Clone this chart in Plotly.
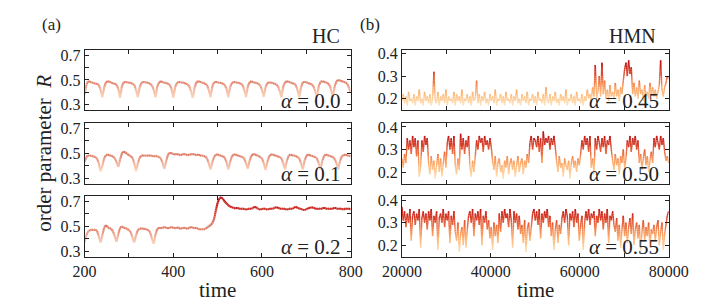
import numpy as np
import plotly.graph_objects as go
from plotly.colors import sample_colorscale

# ------------------------------------------------------------------ data
# (a) HC : order parameter R, sampled every 4 time units from 200 to 800
HC_T_RANGE = (200, 800)
R_HC_00 = [
    0.38, 0.46, 0.49, 0.485, 0.48, 0.475, 0.47, 0.47, 0.46, 0.42,
    0.36, 0.44, 0.48, 0.49, 0.485, 0.48, 0.47, 0.472, 0.46, 0.43,
    0.355, 0.45, 0.48, 0.485, 0.48, 0.48, 0.475, 0.47, 0.46, 0.42,
    0.36, 0.44, 0.475, 0.485, 0.48, 0.482, 0.475, 0.47, 0.455, 0.42,
    0.36, 0.45, 0.48, 0.49, 0.48, 0.48, 0.475, 0.47, 0.46, 0.43,
    0.355, 0.44, 0.475, 0.485, 0.48, 0.48, 0.478, 0.47, 0.465, 0.45, 0.41,
    0.355, 0.44, 0.48, 0.49, 0.485, 0.48, 0.475, 0.47, 0.46, 0.42,
    0.36, 0.45, 0.48, 0.485, 0.48, 0.478, 0.475, 0.47, 0.46, 0.43,
    0.36, 0.44, 0.475, 0.485, 0.48, 0.48, 0.475, 0.47, 0.46, 0.42,
    0.36, 0.45, 0.48, 0.49, 0.48, 0.48, 0.475, 0.47, 0.455, 0.42,
    0.365, 0.44, 0.475, 0.48, 0.48, 0.475, 0.47, 0.465, 0.45, 0.41,
    0.36, 0.45, 0.48, 0.49, 0.485, 0.48, 0.475, 0.47, 0.46, 0.42,
    0.36, 0.44, 0.48, 0.485, 0.48, 0.478, 0.47, 0.465, 0.45, 0.41,
    0.365, 0.45, 0.485, 0.49, 0.485, 0.48, 0.475, 0.46, 0.42,
    0.36, 0.45, 0.49, 0.50, 0.495, 0.49, 0.485, 0.48, 0.47, 0.44,
    0.40,
]
R_HC_01 = [
    0.43, 0.47, 0.485, 0.48, 0.48, 0.475, 0.47, 0.46, 0.42,
    0.355,
    0.40, 0.46, 0.485, 0.49, 0.485, 0.48, 0.475, 0.46, 0.43,
    0.39,
    0.45, 0.50, 0.515, 0.505, 0.495, 0.485, 0.475, 0.465, 0.42,
    0.355,
    0.42, 0.465, 0.48, 0.485, 0.48, 0.48, 0.485, 0.48, 0.48, 0.475, 0.48, 0.475, 0.47, 0.46, 0.42,
    0.375,
    0.44, 0.49, 0.505, 0.50, 0.495, 0.49, 0.495, 0.49, 0.485, 0.49, 0.495, 0.49, 0.485,
    0.49, 0.49, 0.495, 0.49, 0.485, 0.49, 0.485, 0.48, 0.48, 0.475, 0.46, 0.42,
    0.37,
    0.43, 0.47, 0.49, 0.49, 0.485, 0.48, 0.475, 0.465, 0.43,
    0.37,
    0.43, 0.475, 0.49, 0.49, 0.485, 0.48, 0.475, 0.47, 0.46, 0.42,
    0.375,
    0.44, 0.48, 0.495, 0.49, 0.485, 0.48, 0.47, 0.46, 0.42,
    0.365,
    0.43, 0.475, 0.49, 0.49, 0.485, 0.48, 0.475, 0.47, 0.46, 0.42,
    0.37,
    0.44, 0.48, 0.49, 0.485, 0.48, 0.48, 0.47, 0.46, 0.42,
    0.37,
    0.44, 0.48, 0.49, 0.485, 0.48, 0.475, 0.47, 0.46, 0.42,
    0.37,
    0.44, 0.48, 0.49, 0.485, 0.48, 0.475, 0.47, 0.455, 0.42,
    0.37,
    0.44, 0.475, 0.485, 0.49, 0.485, 0.48, 0.475,
]
R_HC_02 = [
    0.37, 0.43, 0.46, 0.47, 0.475, 0.47, 0.475, 0.465, 0.42, 0.37,
    0.43, 0.49, 0.51, 0.495, 0.485, 0.48, 0.46, 0.42, 0.375,
    0.44, 0.49, 0.50, 0.49, 0.485, 0.48, 0.47, 0.455, 0.41, 0.37,
    0.43, 0.47, 0.48, 0.485, 0.48, 0.48, 0.475, 0.47, 0.45, 0.40, 0.36,
    0.44, 0.48, 0.49, 0.485, 0.49, 0.495, 0.49, 0.485, 0.49, 0.495, 0.49, 0.485,
    0.49, 0.49, 0.48, 0.485, 0.49, 0.485, 0.48, 0.49, 0.495, 0.49, 0.485, 0.49,
    0.48, 0.475, 0.48, 0.475, 0.48, 0.49, 0.50, 0.51, 0.525, 0.56, 0.63, 0.69,
    0.725, 0.735, 0.72, 0.70, 0.685, 0.67, 0.66, 0.655, 0.65, 0.645, 0.65, 0.645,
    0.64, 0.645, 0.64, 0.635, 0.64, 0.645, 0.64, 0.65, 0.66, 0.65, 0.64, 0.635,
    0.64, 0.645, 0.64, 0.635, 0.64, 0.645, 0.64, 0.65, 0.655, 0.65, 0.645, 0.64,
    0.645, 0.64, 0.635, 0.64, 0.645, 0.64, 0.65, 0.66, 0.65, 0.645, 0.64, 0.635,
    0.63, 0.64, 0.645, 0.65, 0.655, 0.65, 0.645, 0.64, 0.645, 0.64, 0.645, 0.65,
    0.645, 0.64, 0.645, 0.64, 0.645, 0.65, 0.645, 0.64, 0.645, 0.64, 0.635, 0.645,
    0.64, 0.645, 0.635,
]

# (b) HMN : order parameter R (hundredths), sampled every 300 time units, 20000..80000
HMN_T_RANGE = (20000, 80000)
R_HMN_045 = [v / 100 for v in [
    19, 22, 18, 21, 17, 23, 19, 20, 18, 22,
    17, 21, 19, 24, 18, 20, 17, 23, 19, 21,
    18, 22, 17, 20, 32, 19, 18, 23, 17, 21,
    19, 22, 18, 24, 17, 21, 19, 20, 18, 23,
    17, 22, 19, 21, 18, 24, 17, 20, 19, 22,
    18, 21, 17, 23, 19, 20, 28, 18, 22, 17,
    21, 19, 23, 18, 20, 17, 22, 19, 21, 18,
    24, 17, 20, 19, 22, 18, 21, 17, 23, 19,
    20, 18, 22, 17, 21, 19, 24, 18, 20, 17,
    22, 19, 21, 18, 23, 17, 20, 19, 22, 18,
    21, 17, 23, 19, 20, 18, 22, 17, 25, 19,
    18, 22, 17, 21, 19, 23, 18, 20, 17, 22,
    19, 21, 18, 24, 17, 20, 19, 22, 18, 21,
    17, 23, 19, 20, 18, 22, 17, 21, 19, 24,
    20, 22, 19, 25, 21, 35, 20, 23, 30, 21,
    36, 22, 28, 20, 24, 19, 26, 21, 23, 20,
    27, 21, 24, 19, 25, 22, 28, 33, 36, 30,
    37, 31, 34, 22, 27, 21, 25, 20, 28, 22,
    24, 19, 26, 21, 23, 20, 27, 22, 25, 21,
    24, 20, 23, 26, 37, 24, 21, 25, 27, 30,
    29,
]]
R_HMN_050 = [v / 100 for v in [
    26, 22, 28, 24,
    35, 30, 34, 28, 36, 31, 35, 27, 34,
    18, 22,
    34, 29, 36, 32, 35,
    24, 19, 27, 21, 25, 17, 23, 28, 20, 26, 18, 24, 29, 22,
    33, 36, 30, 35, 28, 36,
    23, 19, 26, 21,
    37,
    30, 35, 28, 34, 31, 36,
    22, 18, 25, 20, 27,
    34, 30, 36, 33, 35, 29, 36, 32, 34, 30, 35, 31,
    25, 21, 27, 18, 24, 26, 20, 23, 17, 25, 22, 27, 19, 24,
    26, 21, 25, 18, 23, 27, 20, 24, 26, 19, 25, 22, 28, 24,
    33, 36, 30, 35, 34, 31, 36, 29, 35,
    24,
    38, 32, 35, 33, 36, 30, 35, 32, 36, 31,
    25, 20, 27, 22, 24, 18, 26, 23, 21, 25, 17, 24, 27, 22, 25, 20, 26, 23, 28,
    34, 30, 36, 32, 35, 29, 36,
    22, 26, 19,
    35, 30, 36, 33, 29, 35, 31, 36, 28, 34, 32, 36, 30,
    25, 21, 28, 23, 26, 19, 27, 24, 30, 22, 26,
    34, 31, 36, 29, 35, 32, 36, 30, 34,
    24, 28, 21, 26, 30, 23, 27, 20, 25, 29, 24,
    35, 31, 36, 33, 30, 36, 32, 35, 29,
    25, 27, 24,
]]
R_HMN_055 = [v / 100 for v in [
    37, 31, 35, 28, 34, 30, 36, 22, 33, 35,
    29, 34, 31, 36, 19, 32, 35, 30, 34, 27,
    35, 31, 36, 24, 33, 30, 35, 18, 32, 34,
    30, 36, 28, 34, 31, 35, 21, 33, 29, 35,
    26, 22, 30, 17, 25, 28, 20, 31, 19, 27,
    33, 35, 30, 36, 24, 34, 31, 35, 29, 36,
    20, 33, 30, 35, 27, 31, 23, 28, 18, 30,
    24, 29, 21, 34, 26, 35, 30, 36, 32, 34,
    28, 36, 31, 19, 35, 30, 34, 27, 33, 25,
    29, 21, 31, 17, 27, 30, 22, 28, 34, 36,
    31, 35, 29, 36, 23, 34, 30, 35, 32, 36,
    28, 33, 24, 30, 18, 27, 31, 21, 29, 25,
    32, 35, 30, 36, 33, 20, 34, 31, 35, 28,
    36, 30, 34, 22, 29, 33, 18, 30, 35, 31,
    36, 29, 34, 32, 35, 24, 33, 30, 36, 31,
    35, 27, 34, 30, 36, 21, 33, 31, 35, 29,
    26, 32, 22, 29, 19, 27, 33, 24, 30, 21,
    28, 32, 25, 34, 20, 27, 30, 23, 29, 17,
    26, 31, 22, 28, 24, 30, 19, 27, 25, 29,
    22, 28, 31, 20, 26, 30, 18, 25, 29, 33,
    35,
]]

HC_ALPHAS = ["0.0", "0.1", "0.2"]
HMN_ALPHAS = ["0.45", "0.50", "0.55"]

HC_XTICKS = [200, 300, 400, 500, 600, 700, 800]
HC_XTEXT = ["200", "", "400", "", "600", "", "800"]
HC_YTICKS = [0.3, 0.4, 0.5, 0.6, 0.7]
HC_YTEXT = ["0.3", "", "0.5", "", "0.7"]
HMN_XTICKS = [20000, 30000, 40000, 50000, 60000, 70000, 80000]
HMN_XTEXT = ["20000", "", "40000", "", "60000", "", "80000"]
HMN_YTICKS = [0.2, 0.3, 0.4]
HMN_YTEXT = ["0.2", "0.3", "0.4"]

# ------------------------------------------------------------------ style
W, H = 708, 303
FONT = "Liberation Serif"
INK = "#222222"

LEFT_STOPS = [(0.30, "#fde8d4"), (0.36, "#fbd6bc"), (0.42, "#f2b096"),
              (0.47, "#e48a74"), (0.50, "#de7862"), (0.56, "#d85a4a"),
              (0.62, "#cf3a2e"), (0.66, "#c8221e"), (0.76, "#a80c0c")]
RIGHT_STOPS = [(0.15, "#fff0da"), (0.18, "#fedcb0"), (0.21, "#fdc48a"),
               (0.24, "#fba868"), (0.27, "#f38048"), (0.30, "#e45632"),
               (0.33, "#d23220"), (0.36, "#c01816"), (0.41, "#9c0a0a")]

COL_X = [(60, 342), (396.3, 679)]           # pixel x-extent of the two columns
ROW_Y = [(38.5, 100.7), (113.5, 175.8), (188.3, 250.7)]  # pixel y-extent of rows
HC_YRANGE = [0.255, 0.745]
HMN_YRANGE = [0.148, 0.418]


def px_x(p):
    return p / W


def px_y(p):
    return 1 - p / H


def make_scale(stops):
    lo, hi = stops[0][0], stops[-1][0]
    return [[(v - lo) / (hi - lo), c] for v, c in stops], lo, hi


def gradient_traces(x, y, stops, nbins, width, axn):
    scale, lo, hi = make_scale(stops)
    edges = np.linspace(lo, hi, nbins + 1)
    xs = [[] for _ in range(nbins)]
    ys = [[] for _ in range(nbins)]
    for i in range(len(x) - 1):
        x0, y0, x1, y1 = x[i], y[i], x[i + 1], y[i + 1]
        a, b = min(y0, y1), max(y0, y1)
        cuts = [e for e in edges[1:-1] if a < e < b]
        ts = [0.0] + sorted((e - y0) / (y1 - y0) for e in cuts) + [1.0]
        for ta, tb in zip(ts[:-1], ts[1:]):
            xa, ya = x0 + ta * (x1 - x0), y0 + ta * (y1 - y0)
            xb, yb = x0 + tb * (x1 - x0), y0 + tb * (y1 - y0)
            mid = 0.5 * (ya + yb)
            k = int(np.clip(np.searchsorted(edges, mid) - 1, 0, nbins - 1))
            xs[k] += [xa, xb, None]
            ys[k] += [ya, yb, None]
    traces = []
    for k in range(nbins):
        if not xs[k]:
            continue
        mid = 0.5 * (edges[k] + edges[k + 1])
        col = sample_colorscale(scale, [(mid - lo) / (hi - lo)])[0]
        traces.append(go.Scatter(
            x=xs[k], y=ys[k], mode="lines",
            line=dict(color=col, width=width),
            xaxis="x" + axn, yaxis="y" + axn,
            hoverinfo="skip", showlegend=False))
    return traces


fig = go.Figure()
layout = dict(
    width=W, height=H, autosize=False,
    margin=dict(l=0, r=0, t=0, b=0),
    paper_bgcolor="white", plot_bgcolor="white",
    font=dict(family=FONT, color=INK),
    showlegend=False,
)

series = [
    (0, R_HC_00), (0, R_HC_01), (0, R_HC_02),
    (1, R_HMN_045), (1, R_HMN_050), (1, R_HMN_055),
]

annotations = []
for p, (col, vals) in enumerate(series):
    row = p % 3
    n = p + 1
    axn = "" if n == 1 else str(n)
    if col == 0:
        t = np.linspace(HC_T_RANGE[0], HC_T_RANGE[1], len(vals))
        tr = gradient_traces(t, vals, LEFT_STOPS, 28, 2.1, axn)
        xr, xt, xtt = [HC_T_RANGE[0], HC_T_RANGE[1]], HC_XTICKS, HC_XTEXT
        yr, yt, ytt = HC_YRANGE, HC_YTICKS, HC_YTEXT
        lab = HC_ALPHAS[row]
    else:
        t = np.linspace(HMN_T_RANGE[0], HMN_T_RANGE[1], len(vals))
        tr = gradient_traces(t, vals, RIGHT_STOPS, 26, 1.4, axn)
        xr, xt, xtt = [HMN_T_RANGE[0], HMN_T_RANGE[1]], HMN_XTICKS, HMN_XTEXT
        yr, yt, ytt = HMN_YRANGE, HMN_YTICKS, HMN_YTEXT
        lab = HMN_ALPHAS[row]
    for trc in tr:
        fig.add_trace(trc)

    common = dict(showline=True, linecolor=INK, linewidth=1, mirror="ticks",
                  ticks="inside", ticklen=4, tickwidth=1, tickcolor=INK,
                  showgrid=False, zeroline=False,
                  tickfont=dict(family=FONT, size=16, color=INK))
    x0, x1 = COL_X[col]
    ytop, ybot = ROW_Y[row]
    layout["xaxis" + axn] = dict(
        common, domain=[px_x(x0), px_x(x1)], range=xr,
        tickmode="array", tickvals=xt, ticktext=xtt,
        showticklabels=(row == 2), anchor="y" + axn)
    layout["yaxis" + axn] = dict(
        common, domain=[px_y(ybot), px_y(ytop)], range=yr,
        tickmode="array", tickvals=yt, ticktext=ytt, anchor="x" + axn)

    annotations.append(dict(
        xref="paper", yref="paper", x=px_x(x1 - 8), y=px_y(ybot - 10),
        xanchor="right", yanchor="middle", showarrow=False,
        text="<i>α</i> = " + lab, font=dict(family=FONT, size=21, color=INK)))

# column titles / panel tags / axis titles
annotations += [
    dict(xref="paper", yref="paper", x=px_x(13), y=px_y(13), xanchor="left",
         yanchor="middle", showarrow=False, text="(a)",
         font=dict(family=FONT, size=17, color=INK)),
    dict(xref="paper", yref="paper", x=px_x(350), y=px_y(13), xanchor="left",
         yanchor="middle", showarrow=False, text="(b)",
         font=dict(family=FONT, size=17, color=INK)),
    dict(xref="paper", yref="paper", x=px_x(333), y=px_y(25), xanchor="right",
         yanchor="middle", showarrow=False, text="HC",
         font=dict(family=FONT, size=20, color=INK)),
    dict(xref="paper", yref="paper", x=px_x(668), y=px_y(25), xanchor="right",
         yanchor="middle", showarrow=False, text="HMN",
         font=dict(family=FONT, size=20, color=INK)),
    dict(xref="paper", yref="paper", x=px_x(17), y=px_y(145), xanchor="center",
         yanchor="middle", showarrow=False, textangle=-90,
         text="order parameter  <i>R</i>",
         font=dict(family=FONT, size=21, color=INK)),
    dict(xref="paper", yref="paper", x=px_x(201), y=px_y(285), xanchor="center",
         yanchor="middle", showarrow=False, text="time",
         font=dict(family=FONT, size=21, color=INK)),
    dict(xref="paper", yref="paper", x=px_x(538), y=px_y(285), xanchor="center",
         yanchor="middle", showarrow=False, text="time",
         font=dict(family=FONT, size=21, color=INK)),
]
layout["annotations"] = annotations
fig.update_layout(**layout)
fig.write_html("out.html")
